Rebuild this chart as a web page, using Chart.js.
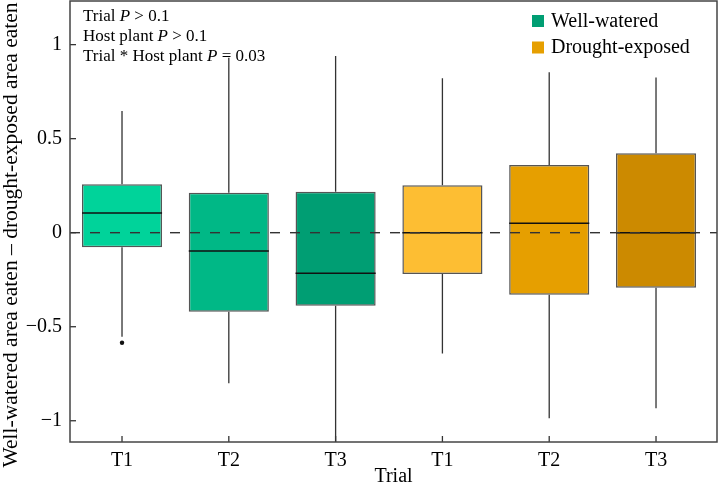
<!DOCTYPE html>
<html>
<head>
<meta charset="utf-8">
<script src="https://cdn.jsdelivr.net/npm/chart.js@4"></script>
<style>
  html, body { margin: 0; padding: 0; background: #fff; }
</style>
</head>
<body>
<canvas id="chart" width="721" height="496"></canvas>
<script>
//-------------------- DATA -------------------
const trials = ['T1', 'T2', 'T3', 'T1', 'T2', 'T3'];
const groups = ['Well-watered', 'Drought-exposed'];
const boxPos = [1, 2, 3, 4, 5, 6];
const q1 = [-0.078, -0.420, -0.388, -0.220, -0.330, -0.293];
const q3 = [0.258, 0.213, 0.218, 0.252, 0.360, 0.422];
const medians = [0.105, -0.097, -0.216, 0, 0.050, 0];
const whiskerLow = [-0.553, -0.80, -1.15, -0.642, -0.987, -0.934];
const whiskerHigh = [0.647, 0.93, 0.94, 0.821, 0.853, 0.825];
const outliers = [[-0.585], [], [], [], [], []];
const yTicks = [-1, -0.5, 0, 0.5, 1];
const stats = [
    ['Trial ', 'P', ' > 0.1'],
    ['Host plant ', 'P', ' > 0.1'],
    ['Trial * Host plant ', 'P', ' = 0.03']
];

//-------------------- STYLE -------------------
const FONT = 'Liberation Serif';
const boxColors = ['#00d39a', '#00b886', '#009e73', '#fdbe33', '#e69f00', '#cc8a00'];
const legendColors = ['#009e73', '#e69f00'];

//-------------------- SETUP -------------------
const data = {
    datasets: [0, 1].map(g => ({
        label: groups[g],
        data: [0, 1, 2].map(k => {
            const i = g * 3 + k;
            return { x: boxPos[i], y: [q1[i], q3[i]] };
        }),
        backgroundColor: boxColors.slice(g * 3, g * 3 + 3),
        borderColor: '#555',
        borderWidth: 1.5,
        borderSkipped: false,
        grouped: false,
        barPercentage: 0.75,
        categoryPercentage: 1
    }))
};

// whiskers, medians, outliers, zero line, frame, ticks, legend, notes
const boxExtras = {
    id: 'boxExtras',
    beforeDatasetsDraw(chart) {
        const { ctx, chartArea: a, scales: { x, y } } = chart;
        ctx.save();
        ctx.beginPath();
        ctx.rect(a.left, a.top, a.right - a.left, a.bottom - a.top);
        ctx.clip();
        ctx.strokeStyle = '#333';
        ctx.lineWidth = 1.3;
        boxPos.forEach((pos, i) => {
            const px = x.getPixelForValue(pos);
            ctx.beginPath();
            ctx.moveTo(px, y.getPixelForValue(whiskerHigh[i]));
            ctx.lineTo(px, y.getPixelForValue(q3[i]));
            ctx.moveTo(px, y.getPixelForValue(q1[i]));
            ctx.lineTo(px, y.getPixelForValue(whiskerLow[i]));
            ctx.stroke();
        });
        ctx.restore();
    },
    afterDatasetsDraw(chart) {
        const { ctx, chartArea: a, scales: { x, y } } = chart;
        const bars = chart.getDatasetMeta(0).data.concat(chart.getDatasetMeta(1).data);
        ctx.save();
        // medians
        ctx.strokeStyle = '#111';
        ctx.lineWidth = 1.6;
        bars.forEach((el, i) => {
            const py = y.getPixelForValue(medians[i]);
            ctx.beginPath();
            ctx.moveTo(el.x - el.width / 2, py);
            ctx.lineTo(el.x + el.width / 2, py);
            ctx.stroke();
        });
        // outliers
        ctx.fillStyle = '#111';
        outliers.forEach((list, i) => {
            list.forEach(v => {
                ctx.beginPath();
                ctx.arc(x.getPixelForValue(boxPos[i]), y.getPixelForValue(v), 2.2, 0, Math.PI * 2);
                ctx.fill();
            });
        });
        // zero reference line
        const y0 = y.getPixelForValue(0);
        ctx.strokeStyle = '#333';
        ctx.lineWidth = 1.4;
        ctx.setLineDash([10, 10]);
        ctx.beginPath();
        ctx.moveTo(a.left, y0);
        ctx.lineTo(a.right, y0);
        ctx.stroke();
        ctx.setLineDash([]);
        // inward ticks
        ctx.strokeStyle = '#333';
        ctx.lineWidth = 1.3;
        y.ticks.forEach(t => {
            const py = y.getPixelForValue(t.value);
            ctx.beginPath();
            ctx.moveTo(a.left, py);
            ctx.lineTo(a.left + 6, py);
            ctx.stroke();
        });
        x.ticks.forEach(t => {
            const px = x.getPixelForValue(t.value);
            ctx.beginPath();
            ctx.moveTo(px, a.bottom);
            ctx.lineTo(px, a.bottom - 6);
            ctx.stroke();
        });
        // frame
        ctx.strokeStyle = '#444';
        ctx.lineWidth = 1.5;
        ctx.strokeRect(a.left, a.top, a.right - a.left, a.bottom - a.top);
        ctx.restore();
    },
    afterDraw(chart) {
        const { ctx, chartArea: a } = chart;
        ctx.save();
        ctx.fillStyle = '#000';
        ctx.textBaseline = 'alphabetic';
        // statistics notes
        stats.forEach((parts, r) => {
            let px = a.left + 13;
            const py = a.top + 19.5 + r * 20;
            parts.forEach((s, j) => {
                ctx.font = (j === 1 ? 'italic ' : '') + '17px "' + FONT + '"';
                ctx.fillText(s, px, py);
                px += ctx.measureText(s).width;
            });
        });
        // legend
        ctx.font = '20px "' + FONT + '"';
        groups.forEach((g, i) => {
            const top = 15 + i * 26.5;
            ctx.fillStyle = legendColors[i];
            ctx.fillRect(532, top, 12, 12);
            ctx.fillStyle = '#000';
            ctx.fillText(g, 551, top + 11.5);
        });
        // y axis title
        ctx.font = '21.5px "' + FONT + '"';
        ctx.textAlign = 'center';
        ctx.textBaseline = 'middle';
        ctx.translate(11, 235);
        ctx.rotate(-Math.PI / 2);
        ctx.fillText('Well-watered area eaten \u2013 drought-exposed area eaten', 0, 0);
        ctx.restore();
    }
};

//-------------------- CONFIG -------------------
const config = {
    type: 'bar',
    data,
    options: {
        responsive: false,
        animation: false,
        layout: { padding: { top: 1, right: 4, left: 0, bottom: 0 } },
        plugins: {
            legend: { display: false },
            tooltip: { enabled: false }
        },
        scales: {
            x: {
                type: 'linear',
                min: 0.513,
                max: 6.571,
                offset: false,
                grid: { display: false, drawTicks: false },
                border: { display: false },
                afterBuildTicks: s => { s.ticks = boxPos.map(v => ({ value: v })); },
                afterFit: s => {
                    s.height = 54;
                    s.paddingLeft = 0;
                    s.paddingRight = 0;
                },
                ticks: {
                    padding: 7,
                    color: '#000',
                    font: { family: FONT, size: 20 },
                    callback: (v, i) => trials[i]
                },
                title: {
                    display: true,
                    text: 'Trial',
                    color: '#000',
                    font: { family: FONT, size: 20 },
                    padding: { top: 0, bottom: 7 }
                }
            },
            y: {
                min: -1.113,
                max: 1.232,
                grid: { display: false, drawTicks: false },
                border: { display: false },
                afterBuildTicks: s => { s.ticks = yTicks.map(v => ({ value: v })); },
                afterFit: s => {
                    s.width = 70;
                    s.paddingTop = 0;
                    s.paddingBottom = 0;
                },
                ticks: {
                    padding: 8,
                    color: '#000',
                    font: { family: FONT, size: 20 },
                    callback: v => String(v).replace('-', '\u2212')
                }
            }
        }
    },
    plugins: [boxExtras]
};

//-------------------- RENDER -------------------
const myChart = new Chart(document.getElementById('chart'), config);
</script>
</body>
</html>
